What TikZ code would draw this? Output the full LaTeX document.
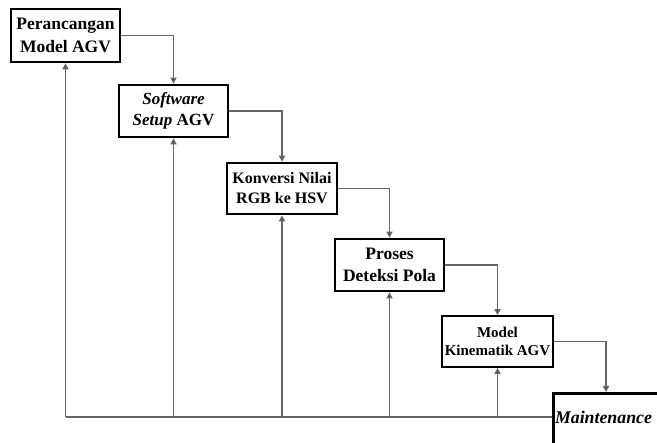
\documentclass[tikz,border=0pt]{standalone}
\usepackage{fontspec}
\setmainfont{Liberation Serif}
\usetikzlibrary{arrows.meta}
\tikzset{
  stagebox/.style={draw=black, line width=2.6pt, fill=white, align=center, inner sep=0pt, font=\bfseries},
  conn/.style={draw=black!60, line width=1.4pt},
  arr/.style={conn, -{Triangle[width=6pt,length=6pt,fill=black!80]}}
}
\begin{document}
\begin{tikzpicture}[x=1pt,y=-1pt]
\useasboundingbox (0,0) rectangle (657,443);
\begin{scope}
\clip (0,0) rectangle (657,443);
\node[stagebox, minimum width=109pt, minimum height=53pt, font=\fontsize{17.5}{23}\bfseries\selectfont] (b1) at (65.5,35.5) {Perancangan\\Model AGV};
\node[stagebox, minimum width=109pt, minimum height=52pt, font=\fontsize{17}{21}\bfseries\selectfont] (b2) at (173.5,111) {\textit{Software}\\\textit{Setup} AGV};
\node[stagebox, minimum width=110pt, minimum height=51pt, font=\fontsize{16}{20}\bfseries\selectfont] (b3) at (282,188.5) {Konversi Nilai\\RGB ke HSV};
\node[stagebox, minimum width=109pt, minimum height=52pt, font=\fontsize{17.5}{22}\bfseries\selectfont] (b4) at (389.5,265) {Proses\\Deteksi Pola};
\node[stagebox, line width=1.8pt, minimum width=111pt, minimum height=51pt, font=\fontsize{15}{18}\bfseries\selectfont] (b5) at (497.5,341.5) {Model\\Kinematik AGV};
\node[stagebox, minimum width=180pt, minimum height=90pt, anchor=north west] (mb) at (552,392) {};
\node[font=\fontsize{17.8}{21}\bfseries\itshape\selectfont, anchor=base] (mt) at (603.5,424) {Maintenance};
\coordinate (mtop) at (606,392);
\coordinate (bus) at (552,417);
\draw[arr] (b1.east) -| (b2.north);
\draw[arr] (b2.east) -| (b3.north);
\draw[arr] (b3.east) -| (b4.north);
\draw[arr] (b4.east) -| (b5.north);
\draw[arr] (b5.east) -| (mtop);
\draw[conn] (bus) -- (b1.south |- bus);
\draw[arr] (b1.south |- bus) -- (b1.south);
\draw[arr] (b2.south |- bus) -- (b2.south);
\draw[arr] (b3.south |- bus) -- (b3.south);
\draw[arr] (b4.south |- bus) -- (b4.south);
\draw[arr] (b5.south |- bus) -- (b5.south);
\end{scope}
\end{tikzpicture}
\end{document}
